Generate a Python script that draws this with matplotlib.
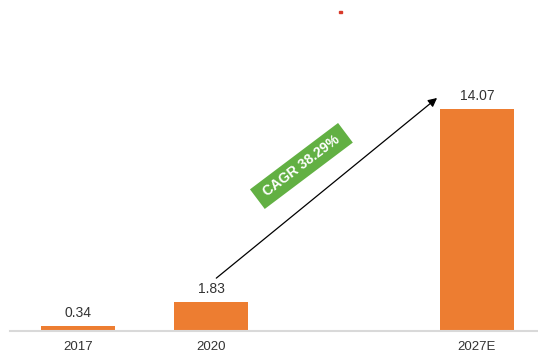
import matplotlib
matplotlib.use("Agg")
import matplotlib.pyplot as plt
from matplotlib.patches import Rectangle

plt.rcParams['font.family'] = ['Liberation Sans', 'DejaVu Sans']

# data
years = ['2017', '2020', '2027E']
values = [0.34, 1.83, 14.07]
positions = [0, 1, 3]   # 2027E sits one slot further right
cagr_label = ' CAGR 38.29% '

fig = plt.figure(figsize=(5.38, 3.55), dpi=100)
ax = fig.add_axes([0.0186, 0.0676, 0.9814, 0.9324])

ax.bar(positions, values, width=0.56, color='#ED7D31', zorder=2)

for p, v in zip(positions, values):
    ax.text(p, v + 0.38, '%.2f' % v, ha='center', va='bottom',
            fontsize=10, color='#333333')

ax.set_xlim(-0.511, 3.459)
ax.set_ylim(0, 20.98)
ax.set_xticks(positions)
ax.set_xticklabels(years, fontsize=9.5, color='#333333')
ax.tick_params(axis='x', length=0, pad=7)
ax.set_yticks([])
for s in ['top', 'right', 'left']:
    ax.spines[s].set_visible(False)
ax.spines['bottom'].set_color('#d9d9d9')
ax.spines['bottom'].set_linewidth(1.5)

# growth arrow
ax.annotate('', xy=(2.70, 14.77), xytext=(1.04, 3.35),
            arrowprops=dict(arrowstyle='-|>', color='black', lw=0.9,
                            mutation_scale=13, shrinkA=0, shrinkB=0))

# CAGR badge
ax.text(1.68, 10.46, cagr_label, rotation=37, ha='center', va='center',
        fontsize=10, fontweight='bold', color='white', rotation_mode='anchor',
        bbox=dict(boxstyle='square,pad=0.38', fc='#62B043', ec='none'))

# small red mark at top
fig.patches.append(Rectangle((0.631, 0.963), 0.004, 0.006, color='#d83a2a',
                             transform=fig.transFigure, figure=fig))

fig.savefig('out.png', dpi=100)
